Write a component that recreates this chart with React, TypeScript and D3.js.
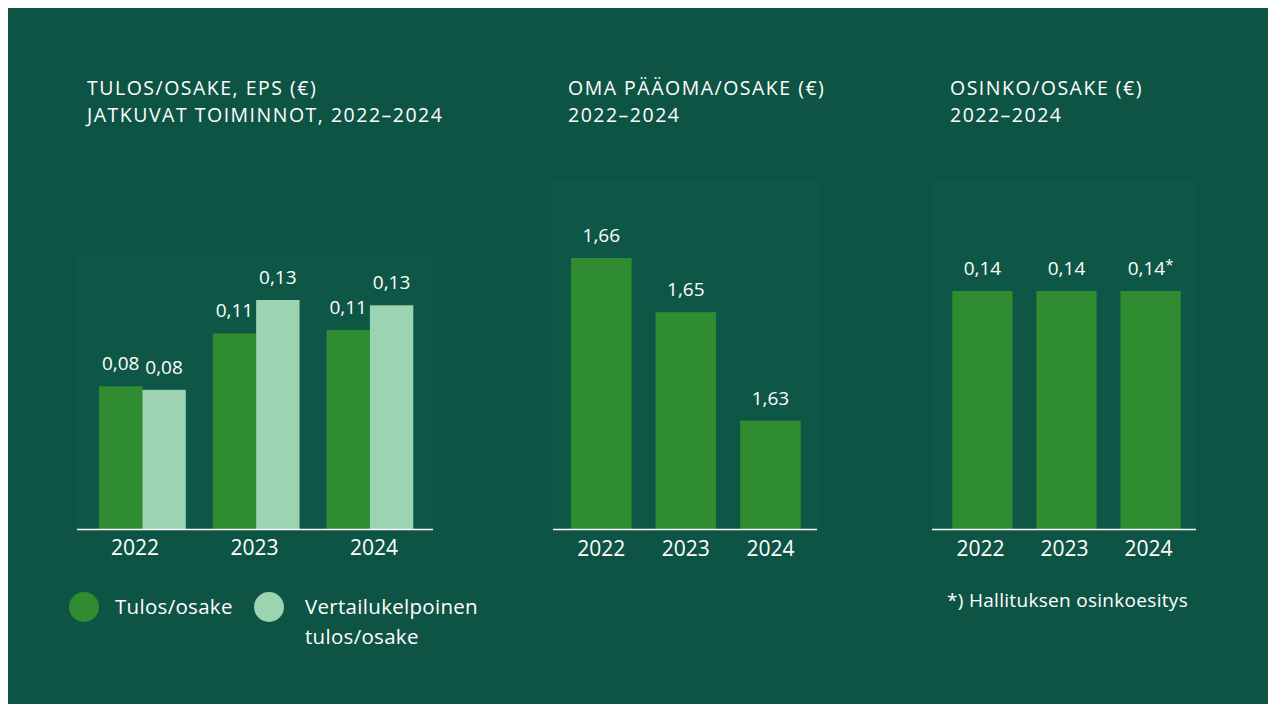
import React from "react";
import * as d3 from "d3";

const years = ["2022", "2023", "2024"];
const epsValues = [0.081, 0.111, 0.113];
const epsComparable = [0.079, 0.13, 0.127];
const epsLabels = ["0,08", "0,11", "0,11"];
const epsCompLabels = ["0,08", "0,13", "0,13"];
const equityValues = [1.66, 1.65, 1.63];
const equityLabels = ["1,66", "1,65", "1,63"];
const dividendValues = [0.14, 0.14, 0.14];
const dividendLabels = ["0,14", "0,14", "0,14"];

const BG = "#0e5444";
const PANEL = "#0e5645";
const DARK = "#2f8c31";
const LIGHT = "#9cd3b0";
const TXT = "#ffffff";
const FONT = "'Open Sans', sans-serif";

export default function App() {
  const W = 1268;
  const H = 696;
  const ox = 8; // page offset
  const base = 529 - ox;

  // Panel 1
  const x1 = d3.scaleBand().domain(years).range([99 - ox, 413.3 - ox]).paddingInner(0.237).paddingOuter(0);
  const x1Inner = d3.scaleBand().domain(["a", "b"]).range([0, x1.bandwidth()]);
  const x1Label = d3.scalePoint().domain(years).range([135 - ox, 374 - ox]);
  const y1 = d3.scaleLinear().domain([0, 0.13]).range([base, 300 - ox]);

  // Panel 2
  const x2 = d3.scaleBand().domain(years).range([571 - ox, 800.7 - ox]).paddingInner(0.284).paddingOuter(0);
  const y2 = d3.scaleLinear().domain([1.61, 1.66]).range([base, 258 - ox]);

  // Panel 3
  const x3 = d3.scaleBand().domain(years).range([952.3 - ox, 1180.7 - ox]).paddingInner(0.284).paddingOuter(0);
  const y3 = d3.scaleLinear().domain([0, 0.14]).range([base, 291 - ox]);

  const titleStyle = { fontFamily: FONT, fontSize: 19.5, fill: TXT, letterSpacing: 1.5 } as any;
  const valStyle = { fontFamily: FONT, fontSize: 19, fill: TXT, textAnchor: "middle" } as any;
  const yearStyle = { fontFamily: FONT, fontSize: 21, fill: TXT, textAnchor: "middle" } as any;
  const legStyle = { fontFamily: FONT, fontSize: 20.5, fill: TXT, letterSpacing: 0.3 } as any;

  const t1 = 94.5 - ox;
  const t2 = 121.5 - ox;

  return (
    <svg width={W} height={H} style={{ display: "block" }}>
      <rect x={0} y={0} width={W} height={H} fill={BG} />
      {/* faint plot panels */}
      <rect x={77 - ox} y={255 - ox} width={356} height={274} fill={PANEL} />
      <rect x={552 - ox} y={180 - ox} width={268} height={349} fill={PANEL} />
      <rect x={932 - ox} y={180 - ox} width={264} height={349} fill={PANEL} />

      {/* Titles */}
      <text x={87 - ox} y={t1} style={titleStyle}>TULOS/OSAKE, EPS (€)</text>
      <text x={87 - ox} y={t2} style={titleStyle}>JATKUVAT TOIMINNOT, 2022–2024</text>
      <text x={568 - ox} y={t1} style={titleStyle}>OMA PÄÄOMA/OSAKE (€)</text>
      <text x={568 - ox} y={t2} style={titleStyle}>2022–2024</text>
      <text x={950 - ox} y={t1} style={titleStyle}>OSINKO/OSAKE (€)</text>
      <text x={950 - ox} y={t2} style={titleStyle}>2022–2024</text>

      {/* Panel 1 bars */}
      {years.map((yr, i) => {
        const gx = x1(yr)!;
        const ax = gx + x1Inner("a")!;
        const bx = gx + x1Inner("b")!;
        const bw = x1Inner.bandwidth();
        return (
          <g key={"p1" + yr}>
            <rect x={ax} y={y1(epsValues[i])} width={bw} height={base - y1(epsValues[i])} fill={DARK} />
            <rect x={bx} y={y1(epsComparable[i])} width={bw} height={base - y1(epsComparable[i])} fill={LIGHT} />
            <text x={ax + bw / 2} y={y1(epsValues[i]) - 16} style={valStyle}>{epsLabels[i]}</text>
            <text x={bx + bw / 2} y={y1(epsComparable[i]) - 16} style={valStyle}>{epsCompLabels[i]}</text>
            <text x={x1Label(yr)} y={555 - ox} style={yearStyle}>{yr}</text>
          </g>
        );
      })}
      <line x1={77 - ox} x2={433 - ox} y1={base + 0.5} y2={base + 0.5} stroke={TXT} strokeWidth={1.5} />

      {/* Panel 2 bars */}
      {years.map((yr, i) => (
        <g key={"p2" + yr}>
          <rect x={x2(yr)} y={y2(equityValues[i])} width={x2.bandwidth()} height={base - y2(equityValues[i])} fill={DARK} />
          <text x={x2(yr)! + x2.bandwidth() / 2} y={y2(equityValues[i]) - 16} style={valStyle}>{equityLabels[i]}</text>
          <text x={x2(yr)! + x2.bandwidth() / 2} y={556 - ox} style={yearStyle}>{yr}</text>
        </g>
      ))}
      <line x1={553 - ox} x2={817 - ox} y1={base + 0.5} y2={base + 0.5} stroke={TXT} strokeWidth={1.5} />

      {/* Panel 3 bars */}
      {years.map((yr, i) => (
        <g key={"p3" + yr}>
          <rect x={x3(yr)} y={y3(dividendValues[i])} width={x3.bandwidth()} height={base - y3(dividendValues[i])} fill={DARK} />
          <text x={x3(yr)! + x3.bandwidth() / 2} y={y3(dividendValues[i]) - 16} style={valStyle}>
            {dividendLabels[i]}
            {i === 2 ? <tspan dy={-5} fontSize={15}>*</tspan> : null}
          </text>
          <text x={x3(yr)! + x3.bandwidth() / 2 - 2} y={556 - ox} style={yearStyle}>{yr}</text>
        </g>
      ))}
      <line x1={932 - ox} x2={1196 - ox} y1={base + 0.5} y2={base + 0.5} stroke={TXT} strokeWidth={1.5} />

      {/* Legend */}
      <circle cx={84 - ox} cy={607 - ox} r={15} fill={DARK} />
      <text x={115 - ox} y={614 - ox} style={legStyle}>Tulos/osake</text>
      <circle cx={269 - ox} cy={607 - ox} r={15} fill={LIGHT} />
      <text x={305 - ox} y={614 - ox} style={legStyle}>Vertailukelpoinen</text>
      <text x={305 - ox} y={644 - ox} style={legStyle}>tulos/osake</text>

      {/* Footnote */}
      <text x={947 - ox} y={607 - ox} style={{ fontFamily: FONT, fontSize: 19, fill: TXT, letterSpacing: 0.3 }}>*) Hallituksen osinkoesitys</text>
    </svg>
  );
}
